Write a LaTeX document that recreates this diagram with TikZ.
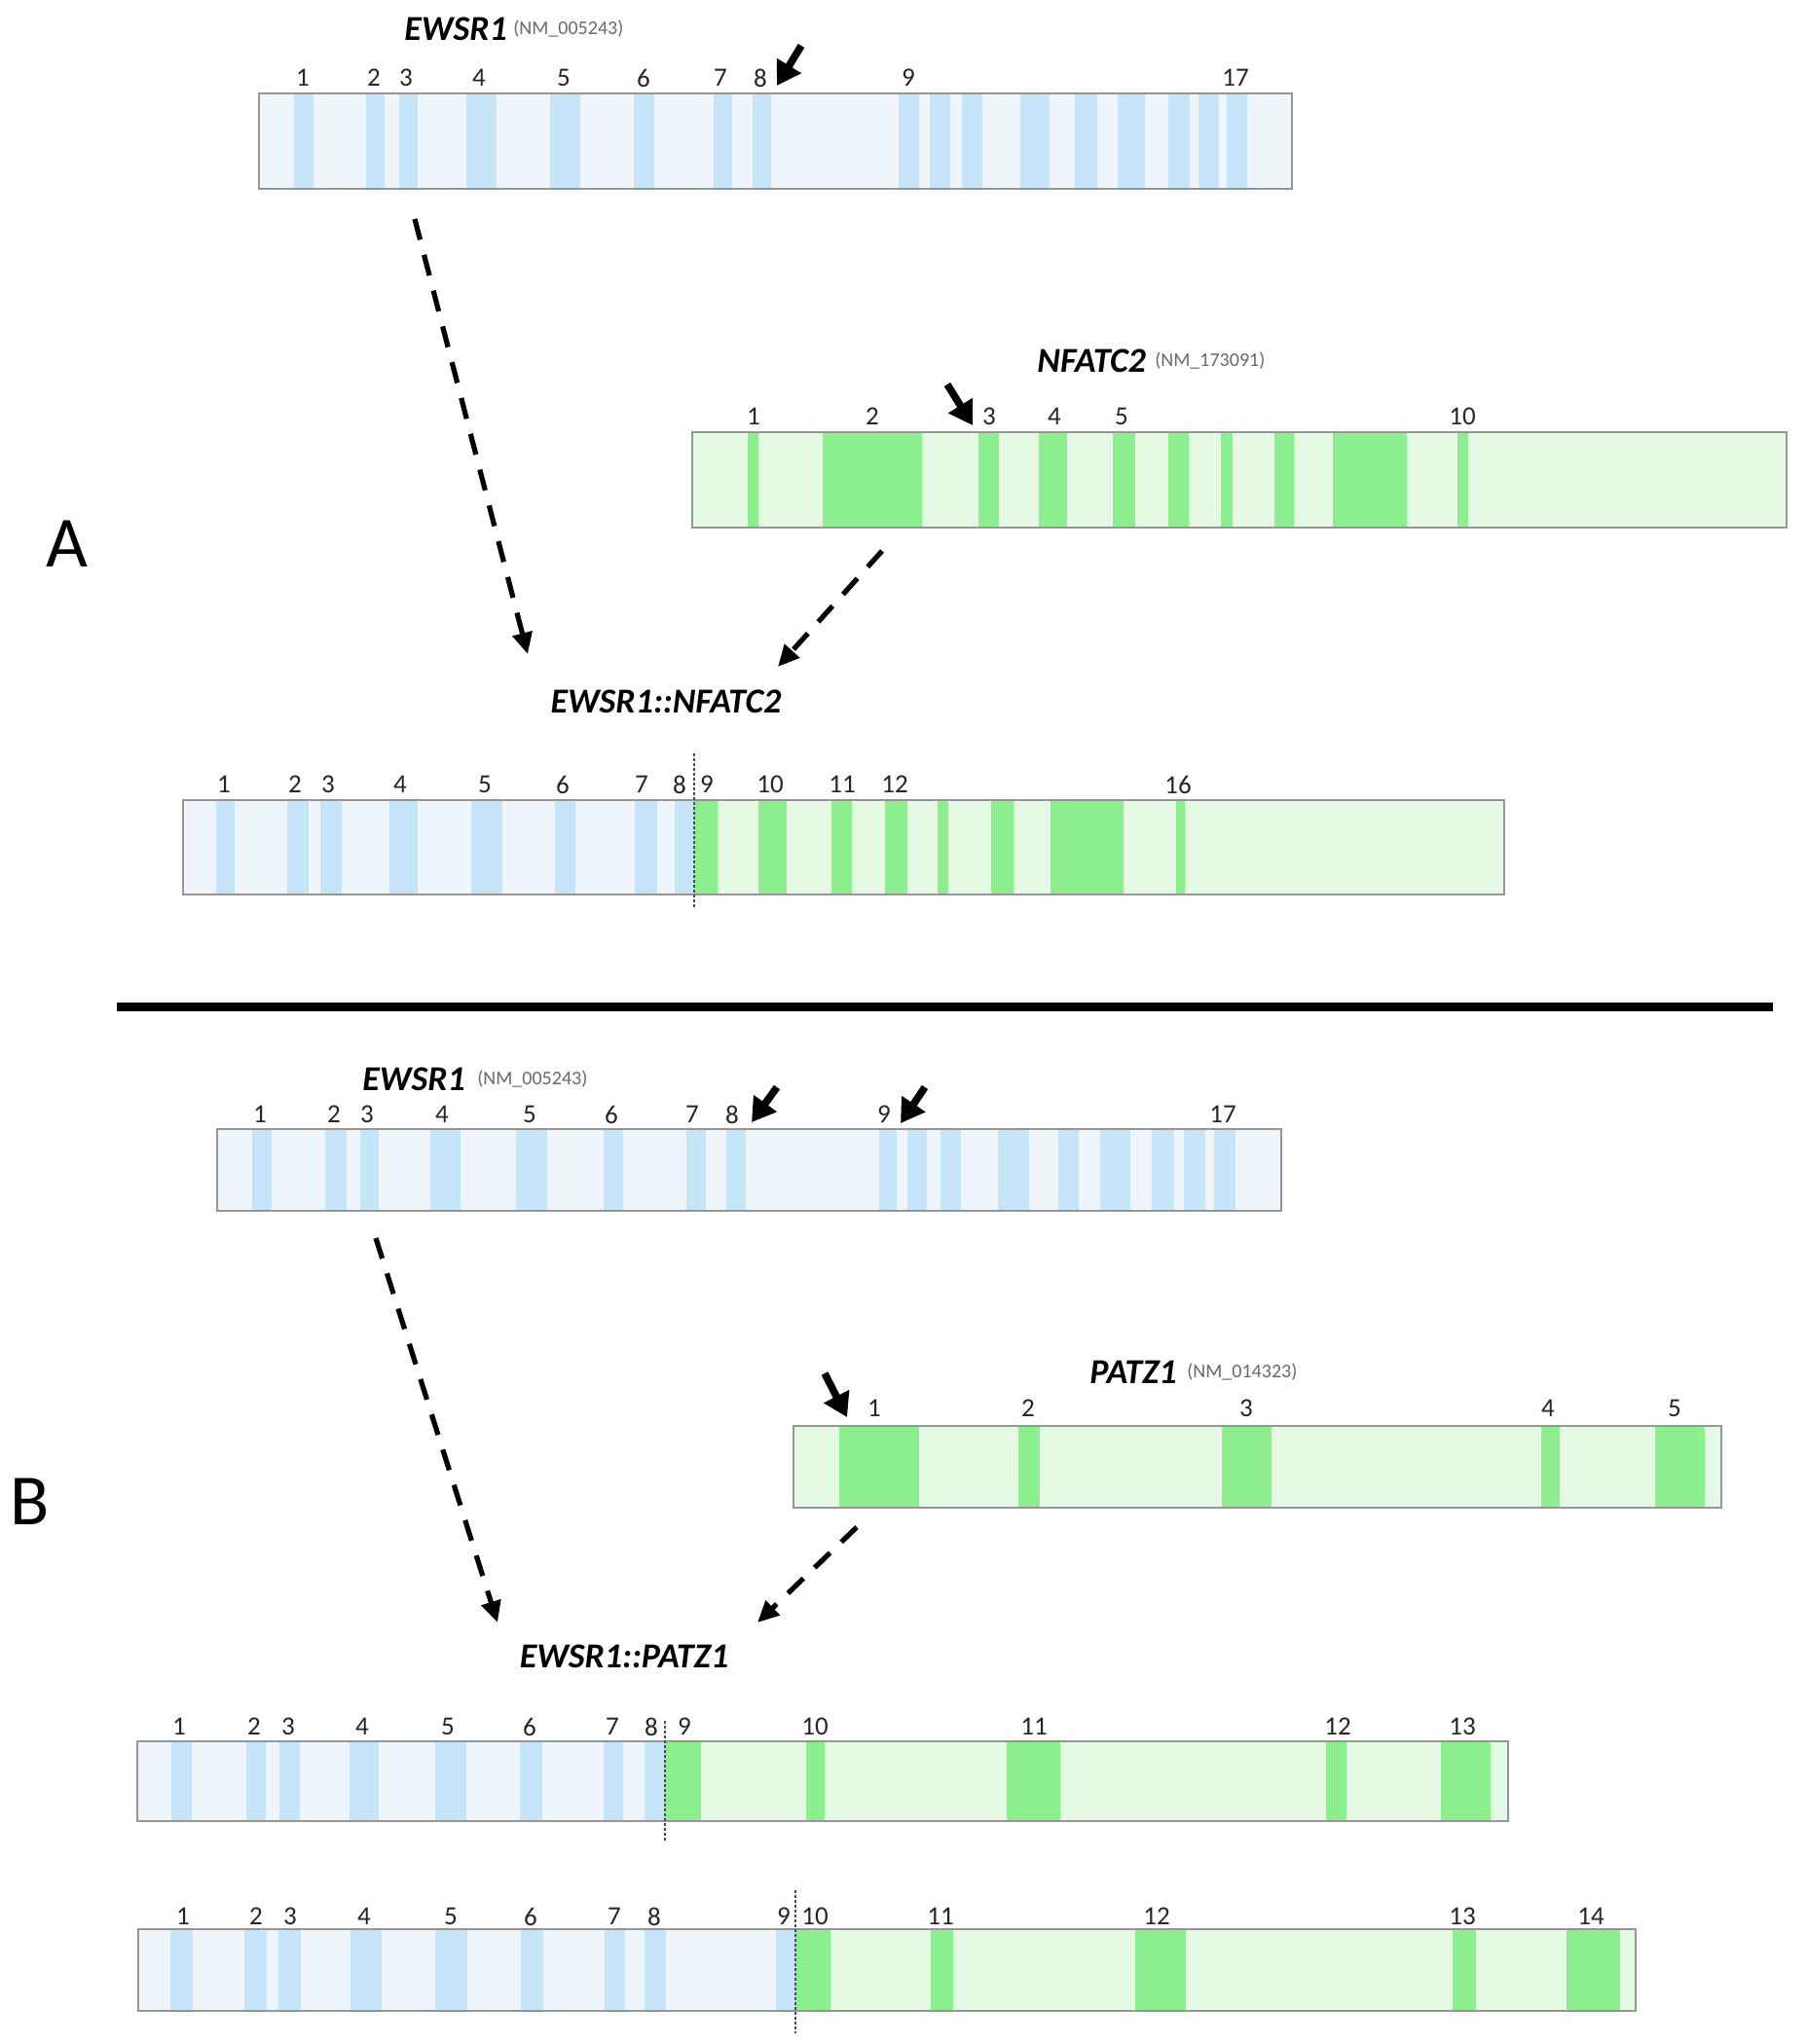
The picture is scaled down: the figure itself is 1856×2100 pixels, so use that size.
\documentclass[tikz,border=0pt]{standalone}
\usepackage{fontspec}
\setmainfont{Carlito}
\usetikzlibrary{arrows.meta}
\definecolor{bluebg}{RGB}{238,246,252}
\definecolor{bluebar}{RGB}{197,228,248}
\definecolor{greenbg}{RGB}{228,250,228}
\definecolor{greenbar}{RGB}{140,238,140}
\definecolor{boxline}{RGB}{150,150,150}
\definecolor{acc}{RGB}{105,105,105}
\newcommand\drawexons[4]{\foreach \a/\b in {#4} {\fill[#1] (\a,#2) rectangle (\b,#3);}}
\begin{document}
\begin{tikzpicture}[x=0.5pt,y=-0.5pt,
  exnum/.style={font=\fontsize{13.5}{15}\selectfont, text=black!85, inner sep=0},
  gene/.style={font=\fontsize{18}{20}\selectfont\bfseries\itshape, inner sep=0, anchor=west},
  fusname/.style={font=\fontsize{18}{20}\selectfont\bfseries\itshape, inner sep=0},
  accn/.style={font=\fontsize{10}{11}\selectfont, text=acc, inner sep=0, anchor=west},
  boxborder/.style={draw=boxline, line width=1pt},
  dasharrow/.style={line width=2.6pt, dash pattern=on 11pt off 8pt, -{Triangle[length=11pt,width=10pt]}},
  breakarrow/.style={line width=3.8pt, -{Triangle[length=12pt,width=14pt]}},
  fusionline/.style={draw=black!70, line width=0.6pt, dash pattern=on 1.5pt off 1pt},
  panel/.style={font=\fontsize{37}{40}\selectfont, inner sep=0}]
\useasboundingbox (0,0) rectangle (1856,2100);
\fill[white] (0,0) rectangle (1856,2100);

% ---------------- Panel A ----------------
\node[panel] (pA) at (69,559) {A};

% EWSR1 (A)
\node[gene] (gA1) at (415,30) {EWSR1};
\node[accn] (accA1) at (527,30) {(NM\_005243)};
\fill[bluebg] (266,96) rectangle (1327,194);
\drawexons{bluebar}{96}{194}{302/322,376/395,410/429,479/510,565/596,651/672,733/752,773/792,923/944,955/976,988/1009,1048/1078,1104/1127,1148/1176,1200/1222,1231/1252,1260/1281}
\draw[boxborder] (266,96) rectangle (1327,194);
\foreach \x/\t in {311/1,384/2,417/3,492/4,579/5,661/6,740/7,781/8,933/9,1269/17}
  {\node[exnum, name=ea\t] at (\x,80) {\t};}
\coordinate (brA1s) at (823,47);
\coordinate (brA1e) at (798,88);
\draw[breakarrow] (brA1s) -- (brA1e);

% NFATC2
\node[gene] (gN) at (1065,371) {NFATC2};
\node[accn] (accN) at (1186,371) {(NM\_173091)};
\fill[greenbg] (711,444) rectangle (1835,542);
\drawexons{greenbar}{444}{542}{768/779,845/947,1005/1026,1067/1096,1143/1166,1200/1221,1254/1266,1309/1329,1369/1445,1497/1508}
\draw[boxborder] (711,444) rectangle (1835,542);
\foreach \x/\t in {774/1,896/2,1016/3,1083/4,1152/5,1502/10}
  {\node[exnum, name=en\t] at (\x,428) {\t};}
\coordinate (brNs) at (973,395);
\coordinate (brNe) at (999,437);
\draw[breakarrow] (brNs) -- (brNe);

% fusion EWSR1::NFATC2
\node[fusname] (fA) at (684,721) {EWSR1::NFATC2};
\fill[bluebg] (188,822) rectangle (713,919);
\fill[greenbg] (713,822) rectangle (1545,919);
\drawexons{bluebar}{822}{919}{222/241,295/317,329/351,400/429,484/516,570/591,652/675,693/713}
\drawexons{greenbar}{822}{919}{713/737,779/808,854/875,909/932,963/974,1018/1041,1079/1154,1208/1217}
\draw[boxborder] (188,822) rectangle (1545,919);
\coordinate (flAt) at (713,774);
\coordinate (flAb) at (713,933);
\draw[fusionline] (flAt) -- (flAb);
\foreach \x/\t in {230/1,303/2,337/3,411/4,498/5,578/6,659/7,698/8,726/9,791/10,865/11,919/12,1210/16}
  {\node[exnum, name=efa\t] at (\x,806) {\t};}

% dashed arrows A
\coordinate (a1s) at (426,225);
\coordinate (a1e) at (542,672);
\coordinate (a2s) at (906,566);
\coordinate (a2e) at (799,685);
\draw[dasharrow] (a1s) -- (a1e);
\draw[dasharrow] (a2s) -- (a2e);

% divider
\coordinate (divL) at (120,1034);
\coordinate (divR) at (1821,1034);
\draw[line width=4.5pt] (divL) -- (divR);

% ---------------- Panel B ----------------
\node[panel] (pB) at (31,1543) {B};

% EWSR1 (B)
\node[gene] (gB1) at (372,1109) {EWSR1};
\node[accn] (accB1) at (490,1109) {(NM\_005243)};
\fill[bluebg] (223,1160) rectangle (1316,1244);
\drawexons{bluebar}{1160}{1244}{259/279,334/356,370/389,442/473,530/562,620/640,705/725,746/766,903/921,932/952,966/987,1025/1057,1087/1108,1130/1161,1183/1206,1216/1238,1247/1269}
\draw[boxborder] (223,1160) rectangle (1316,1244);
\foreach \x/\t in {267/1,343/2,377/3,454/4,544/5,628/6,711/7,752/8,908/9,1256/17}
  {\node[exnum, name=eb\t] at (\x,1145) {\t};}
\coordinate (brB1s) at (798,1117);
\coordinate (brB1e) at (772,1153);
\draw[breakarrow] (brB1s) -- (brB1e);
\coordinate (brB2s) at (950,1117);
\coordinate (brB2e) at (925,1154);
\draw[breakarrow] (brB2s) -- (brB2e);

% PATZ1
\node[gene] (gP) at (1119,1410) {PATZ1};
\node[accn] (accP) at (1219,1410) {(NM\_014323)};
\fill[greenbg] (815,1465) rectangle (1768,1549);
\drawexons{greenbar}{1465}{1549}{862/944,1046/1068,1255/1306,1583/1602,1700/1751}
\draw[boxborder] (815,1465) rectangle (1768,1549);
\foreach \x/\t in {898/1,1056/2,1280/3,1590/4,1720/5}
  {\node[exnum, name=ep\t] at (\x,1447) {\t};}
\coordinate (brPs) at (847,1411);
\coordinate (brPe) at (870,1456);
\draw[breakarrow] (brPs) -- (brPe);

% fusion EWSR1::PATZ1
\node[fusname] (fB) at (641,1702) {EWSR1::PATZ1};

% fusion variant 1
\fill[bluebg] (141,1789) rectangle (683,1871);
\fill[greenbg] (683,1789) rectangle (1549,1871);
\drawexons{bluebar}{1789}{1871}{176/197,253/273,287/308,359/389,447/479,534/557,620/640,662/683}
\drawexons{greenbar}{1789}{1871}{683/720,828/847,1034/1089,1362/1383,1480/1531}
\draw[boxborder] (141,1789) rectangle (1549,1871);
\coordinate (flB1t) at (683,1768);
\coordinate (flB1b) at (683,1891);
\draw[fusionline] (flB1t) -- (flB1b);
\foreach \x/\t in {184/1,261/2,296/3,372/4,460/5,544/6,629/7,669/8,703/9,837/10,1062/11,1374/12,1502/13}
  {\node[exnum, name=efb\t] at (\x,1774) {\t};}

% fusion variant 2
\fill[bluebg] (142,1982) rectangle (817,2066);
\fill[greenbg] (817,1982) rectangle (1680,2066);
\drawexons{bluebar}{1982}{2066}{175/198,251/274,286/309,360/392,447/480,535/558,621/642,662/684,797/817}
\drawexons{greenbar}{1982}{2066}{817/853,956/979,1166/1218,1492/1516,1609/1664}
\draw[boxborder] (142,1982) rectangle (1680,2066);
\coordinate (flB2t) at (817,1942);
\coordinate (flB2b) at (817,2089);
\draw[fusionline] (flB2t) -- (flB2b);
\foreach \x/\t in {188/1,263/2,298/3,374/4,463/5,545/6,631/7,672/8,805/9,837/10,966/11,1188/12,1502/13,1634/14}
  {\node[exnum, name=efc\t] at (\x,1969) {\t};}

% dashed arrows B
\coordinate (b1s) at (386,1272);
\coordinate (b1e) at (511,1667);
\coordinate (b2s) at (880,1569);
\coordinate (b2e) at (778,1667);
\draw[dasharrow] (b1s) -- (b1e);
\draw[dasharrow] (b2s) -- (b2e);
\end{tikzpicture}
\end{document}
